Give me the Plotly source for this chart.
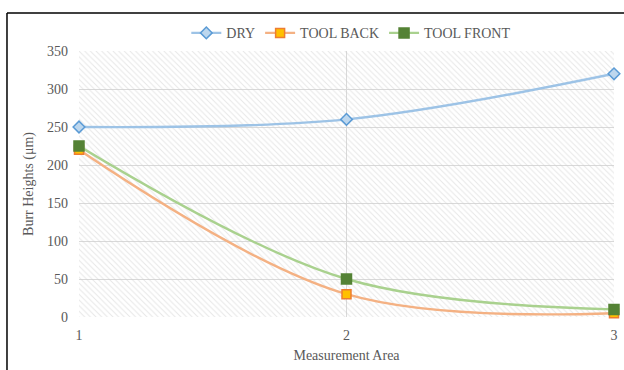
import plotly.graph_objects as go

areas = [1, 2, 3]
dry = [250, 260, 320]
tool_back = [220, 30, 5]
tool_front = [225, 50, 10]
y_ticks = [0, 50, 100, 150, 200, 250, 300, 350]

FONT = "Liberation Serif, Times New Roman, serif"
GRAY = "#595959"

fig = go.Figure()

# hatched plot background
fig.add_trace(go.Scatter(
    x=[areas[0], areas[-1], areas[-1], areas[0], areas[0]],
    y=[y_ticks[0], y_ticks[0], y_ticks[-1], y_ticks[-1], y_ticks[0]],
    mode="lines", fill="toself", line=dict(width=0),
    fillcolor="rgba(0,0,0,0)",
    fillpattern=dict(shape="\\", fgcolor="#cfcfcf", bgcolor="rgba(0,0,0,0)",
                     size=4, solidity=0.25),
    showlegend=False, hoverinfo="skip"))

series = [
    ("DRY", dry, "#9dc3e6", "diamond", "#bdd7ee", "#5b9bd5", 9),
    ("TOOL BACK", tool_back, "#f4b183", "square", "#ffc000", "#ed7d31", 9),
    ("TOOL FRONT", tool_front, "#a9d18e", "square", "#548235", "#548235", 10),
]
for name, vals, lc, sym, fc, oc, ms in series:
    fig.add_trace(go.Scatter(
        x=areas, y=vals, name=name, mode="lines+markers",
        line=dict(color=lc, width=2.4, shape="spline", smoothing=1.0),
        marker=dict(symbol=sym, size=ms, color=fc, line=dict(color=oc, width=1.5)),
        cliponaxis=False))

fig.update_layout(
    width=624, height=370,
    margin=dict(l=79, r=10, t=51, b=53, autoexpand=False),
    paper_bgcolor="white", plot_bgcolor="white",
    font=dict(family=FONT, size=14, color=GRAY),
    legend=dict(orientation="h", x=0.563, xanchor="center", xref="container",
                y=0.91, yanchor="middle", yref="container",
                font=dict(family=FONT, size=14, color=GRAY), itemwidth=30,
                traceorder="normal", bgcolor="rgba(0,0,0,0)"),
    xaxis=dict(range=[1, 3], tickvals=areas, showgrid=True, gridcolor="#d9d9d9",
               gridwidth=1, zeroline=False, showline=False, ticks="",
               ticklabelstandoff=8, automargin=False,
               title=dict(text="Measurement Area", font=dict(family=FONT, size=14, color=GRAY),
                          standoff=8)),
    yaxis=dict(range=[0, 350], tickvals=y_ticks, showgrid=True, gridcolor="#d9d9d9",
               gridwidth=1, zeroline=False, showline=False, ticks="",
               ticklabelstandoff=10, automargin=False,
               title=dict(text="Burr Heights (μm)", font=dict(family=FONT, size=14, color=GRAY),
                          standoff=10)),
    shapes=[
        dict(type="line", xref="paper", yref="paper", x0=-0.1346, x1=1.05,
             y0=1.1429, y1=1.1429, line=dict(color="black", width=1.5)),
        dict(type="line", xref="paper", yref="paper", x0=-0.1346, x1=-0.1346,
             y0=1.1429, y1=-0.3, line=dict(color="black", width=1.5)),
    ],
)

fig.write_html("out.html", config={"displayModeBar": False},
               post_script="document.body.style.margin='0';document.body.style.overflow='hidden';")
